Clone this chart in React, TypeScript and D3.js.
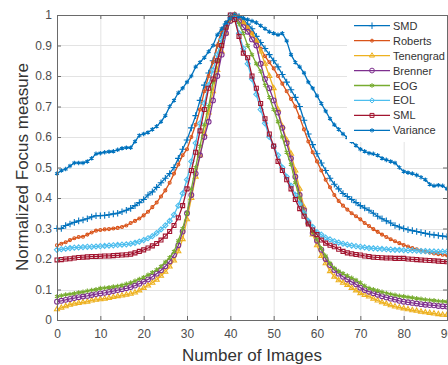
import React, { useEffect, useRef } from "react";
import * as d3 from "d3";

// focus measures for image index 0..90
const smd = [
  0.30, 0.30, 0.31, 0.315, 0.32, 0.325, 0.328, 0.332, 0.338, 0.342,
  0.342, 0.343, 0.345, 0.348, 0.35, 0.355, 0.36, 0.366, 0.375, 0.385,
  0.395, 0.41, 0.42, 0.435, 0.45, 0.465, 0.48, 0.5, 0.53, 0.56,
  0.59, 0.63, 0.67, 0.72, 0.77, 0.81, 0.85, 0.9, 0.94, 0.97,
  0.99, 1.0, 0.995, 0.985, 0.97, 0.955, 0.93, 0.91, 0.89, 0.87,
  0.85, 0.83, 0.805, 0.78, 0.755, 0.73, 0.70, 0.655, 0.61, 0.575,
  0.545, 0.515, 0.49, 0.465, 0.445, 0.43, 0.415, 0.405, 0.395, 0.385,
  0.375, 0.367, 0.36, 0.35, 0.34, 0.332, 0.325, 0.318, 0.31, 0.305,
  0.30, 0.296, 0.293, 0.29, 0.287, 0.284, 0.281, 0.279, 0.277, 0.275, 0.273,
];
const roberts = [
  0.245, 0.25, 0.255, 0.262, 0.268, 0.272, 0.273, 0.28, 0.287, 0.293,
  0.295, 0.297, 0.298, 0.30, 0.302, 0.305, 0.31, 0.318, 0.325, 0.333,
  0.343, 0.355, 0.37, 0.385, 0.405, 0.425, 0.45, 0.48, 0.51, 0.54,
  0.56, 0.6, 0.64, 0.69, 0.75, 0.80, 0.845, 0.9, 0.95, 0.975,
  0.99, 1.0, 0.99, 0.975, 0.96, 0.94, 0.915, 0.89, 0.865, 0.845,
  0.825, 0.80, 0.775, 0.75, 0.725, 0.70, 0.665, 0.625, 0.585, 0.55,
  0.52, 0.49, 0.46, 0.435, 0.41, 0.39, 0.375, 0.362, 0.35, 0.34,
  0.33, 0.318, 0.308, 0.298, 0.289, 0.28, 0.272, 0.265, 0.258, 0.252,
  0.246, 0.241, 0.236, 0.232, 0.228, 0.224, 0.221, 0.218, 0.216, 0.214, 0.212,
];
const tenengrad = [
  0.035, 0.04, 0.045, 0.05, 0.053, 0.056, 0.058, 0.06, 0.064, 0.066,
  0.068, 0.07, 0.072, 0.075, 0.078, 0.08, 0.083, 0.086, 0.09, 0.097,
  0.105, 0.113, 0.122, 0.132, 0.145, 0.158, 0.175, 0.195, 0.225, 0.265,
  0.33, 0.40, 0.47, 0.54, 0.61, 0.68, 0.75, 0.82, 0.88, 0.94,
  0.98, 1.0, 0.99, 0.975, 0.955, 0.935, 0.915, 0.88, 0.84, 0.80,
  0.76, 0.69, 0.635, 0.59, 0.545, 0.49, 0.43, 0.37, 0.32, 0.28,
  0.245, 0.21, 0.186, 0.16, 0.142, 0.13, 0.122, 0.115, 0.105, 0.097,
  0.088, 0.082, 0.077, 0.07, 0.064, 0.058, 0.053, 0.048, 0.044, 0.041,
  0.038, 0.035, 0.032, 0.03, 0.027, 0.025, 0.023, 0.021, 0.019, 0.017, 0.016,
];
const brenner = [
  0.06, 0.063, 0.066, 0.069, 0.072, 0.075, 0.077, 0.079, 0.082, 0.085,
  0.087, 0.089, 0.092, 0.095, 0.098, 0.101, 0.104, 0.108, 0.113, 0.119,
  0.126, 0.133, 0.142, 0.152, 0.163, 0.176, 0.192, 0.213, 0.245, 0.29,
  0.35, 0.41, 0.48, 0.54, 0.60, 0.65, 0.72, 0.80, 0.87, 0.94,
  0.98, 1.0, 0.98, 0.96, 0.945, 0.92, 0.90, 0.84, 0.79, 0.76,
  0.72, 0.68, 0.63, 0.58, 0.53, 0.47, 0.41, 0.36, 0.32, 0.285,
  0.26, 0.23, 0.20, 0.18, 0.164, 0.152, 0.142, 0.133, 0.125, 0.117,
  0.106, 0.098, 0.093, 0.088, 0.083, 0.078, 0.074, 0.07, 0.067, 0.063,
  0.06, 0.058, 0.056, 0.054, 0.052, 0.05, 0.049, 0.048, 0.046, 0.045, 0.044,
];
const eog = [
  0.077, 0.08, 0.083, 0.085, 0.087, 0.09, 0.092, 0.095, 0.098, 0.10,
  0.104, 0.105, 0.107, 0.109, 0.111, 0.114, 0.118, 0.122, 0.128, 0.134,
  0.14, 0.148, 0.156, 0.165, 0.176, 0.19, 0.205, 0.225, 0.26, 0.30,
  0.35, 0.43, 0.50, 0.57, 0.64, 0.70, 0.78, 0.85, 0.91, 0.96,
  0.99, 1.0, 0.97, 0.94, 0.90, 0.87, 0.84, 0.815, 0.77, 0.73,
  0.69, 0.65, 0.60, 0.55, 0.51, 0.45, 0.40, 0.35, 0.32, 0.29,
  0.265, 0.235, 0.21, 0.186, 0.17, 0.16, 0.153, 0.145, 0.138, 0.131,
  0.122, 0.112, 0.104, 0.10, 0.096, 0.092, 0.088, 0.085, 0.082, 0.079,
  0.077, 0.075, 0.073, 0.071, 0.069, 0.067, 0.065, 0.064, 0.062, 0.061, 0.06,
];
const eol = [
  0.23, 0.232, 0.234, 0.236, 0.237, 0.238, 0.239, 0.24, 0.24, 0.241,
  0.242, 0.243, 0.244, 0.245, 0.246, 0.247, 0.248, 0.25, 0.253, 0.257,
  0.262, 0.268, 0.275, 0.285, 0.297, 0.31, 0.325, 0.345, 0.375, 0.415,
  0.46, 0.52, 0.58, 0.645, 0.71, 0.77, 0.82, 0.87, 0.92, 0.97,
  1.0, 0.99, 0.94, 0.89, 0.84, 0.79, 0.74, 0.69, 0.645, 0.60,
  0.57, 0.54, 0.50, 0.47, 0.44, 0.41, 0.38, 0.35, 0.325, 0.305,
  0.288, 0.28, 0.27, 0.264, 0.258, 0.254, 0.25, 0.247, 0.244, 0.242,
  0.24, 0.238, 0.236, 0.235, 0.234, 0.233, 0.232, 0.231, 0.23, 0.23,
  0.229, 0.228, 0.228, 0.227, 0.226, 0.226, 0.225, 0.225, 0.224, 0.224, 0.224,
];
const sml = [
  0.197, 0.198, 0.20, 0.201, 0.203, 0.205, 0.206, 0.207, 0.208, 0.208,
  0.209, 0.21, 0.21, 0.211, 0.212, 0.213, 0.214, 0.216, 0.22, 0.225,
  0.23, 0.236, 0.243, 0.251, 0.262, 0.275, 0.29, 0.31, 0.335, 0.375,
  0.43, 0.49, 0.55, 0.62, 0.69, 0.76, 0.79, 0.85, 0.90, 0.96,
  1.0, 0.985, 0.93, 0.875, 0.86, 0.80, 0.76, 0.71, 0.66, 0.61,
  0.57, 0.52, 0.49, 0.46, 0.43, 0.395, 0.365, 0.34, 0.315, 0.295,
  0.28, 0.262, 0.252, 0.245, 0.24, 0.232, 0.225, 0.22, 0.217, 0.215,
  0.213, 0.21, 0.208, 0.206, 0.205, 0.204, 0.203, 0.203, 0.202, 0.202,
  0.202, 0.20, 0.199, 0.198, 0.197, 0.196, 0.195, 0.194, 0.193, 0.192, 0.191,
];
const variance = [
  0.48, 0.49, 0.495, 0.505, 0.515, 0.515, 0.515, 0.52, 0.53, 0.545,
  0.547, 0.55, 0.552, 0.553, 0.558, 0.563, 0.565, 0.565, 0.585, 0.605,
  0.61, 0.615, 0.625, 0.635, 0.65, 0.67, 0.70, 0.72, 0.745, 0.76,
  0.78, 0.80, 0.83, 0.845, 0.86, 0.88, 0.90, 0.935, 0.955, 0.975,
  0.99, 1.0, 0.995, 0.99, 0.985, 0.98, 0.975, 0.965, 0.955, 0.945,
  0.94, 0.935, 0.94, 0.915, 0.87, 0.845, 0.83, 0.81, 0.78, 0.76,
  0.735, 0.71, 0.685, 0.66, 0.64, 0.625, 0.61, 0.598, 0.585, 0.572,
  0.56, 0.553, 0.547, 0.545, 0.54, 0.53, 0.525, 0.52, 0.515, 0.50,
  0.487, 0.483, 0.48, 0.475, 0.468, 0.46, 0.445, 0.44, 0.442, 0.44, 0.43,
];

const seriesNames = ["SMD", "Roberts", "Tenengrad", "Brenner", "EOG", "EOL", "SML", "Variance"];
const seriesValues = [smd, roberts, tenengrad, brenner, eog, eol, sml, variance];
const xTicks = [0, 10, 20, 30, 40, 50, 60, 70, 80, 90];
const yTicks = [0, 0.1, 0.2, 0.3, 0.4, 0.5, 0.6, 0.7, 0.8, 0.9, 1];
const yTickLabels = ["0", "0.1", "0.2", "0.3", "0.4", "0.5", "0.6", "0.7", "0.8", "0.9", "1"];

const colors = ["#0072BD", "#D95319", "#EDB120", "#7E2F8E", "#77AC30", "#4DBEEE", "#A2142F", "#0072BD"];
const symbols = [
  { type: d3.symbolPlus, size: 16 },
  { type: d3.symbolCircle, size: 7 },
  { type: d3.symbolTriangle2, size: 18 },
  { type: d3.symbolCircle, size: 18 },
  { type: d3.symbolAsterisk, size: 16 },
  { type: d3.symbolDiamond2, size: 17 },
  { type: d3.symbolSquare2, size: 20 },
  { type: d3.symbolAsterisk, size: 14 },
];

const FONT = "'Liberation Sans', Arial, Helvetica, sans-serif";

const App: React.FC = () => {
  const svgRef = useRef<SVGSVGElement | null>(null);

  useEffect(() => {
    if (!svgRef.current) return;
    const svg = d3.select(svgRef.current);
    svg.selectAll("*").remove();

    const margin = { top: 15, left: 57 };
    const width = 390;
    const height = 305;

    const x = d3.scaleLinear().domain([0, 90]).range([0, width]);
    const y = d3.scaleLinear().domain([0, 1]).range([height, 0]);

    const g = svg
      .append("g")
      .attr("transform", `translate(${margin.left},${margin.top})`);

    // grid
    g.append("g")
      .selectAll("line")
      .data(xTicks)
      .enter()
      .append("line")
      .attr("x1", (d) => x(d) + 0.5)
      .attr("x2", (d) => x(d) + 0.5)
      .attr("y1", 0)
      .attr("y2", height)
      .attr("stroke", "#e3e3e3");
    g.append("g")
      .selectAll("line")
      .data(yTicks)
      .enter()
      .append("line")
      .attr("x1", 0)
      .attr("x2", width)
      .attr("y1", (d) => Math.round(y(d)) + 0.5)
      .attr("y2", (d) => Math.round(y(d)) + 0.5)
      .attr("stroke", "#e3e3e3");

    // curves
    const line = d3
      .line<number>()
      .x((_, i) => x(i))
      .y((d) => y(d));

    seriesValues.forEach((vals, k) => {
      const sg = g.append("g");
      sg.append("path")
        .datum(vals)
        .attr("d", line)
        .attr("fill", "none")
        .attr("stroke", colors[k])
        .attr("stroke-width", 1.3);
      const sym = d3.symbol().type(symbols[k].type).size(symbols[k].size);
      sg.selectAll("path.m")
        .data(vals)
        .enter()
        .append("path")
        .attr("class", "m")
        .attr("d", sym() as string)
        .attr("transform", (d, i) => `translate(${x(i)},${y(d)})`)
        .attr("fill", "none")
        .attr("stroke", colors[k])
        .attr("stroke-width", 1.1);
    });

    // axes
    const axisColor = "#6a6a6a";
    const xAxis = g
      .append("g")
      .attr("transform", `translate(0,${height})`)
      .call(
        d3.axisBottom(x).tickValues(xTicks).tickSizeInner(-4).tickSizeOuter(0).tickPadding(9),
      );
    const yAxis = g
      .append("g")
      .call(
        d3
          .axisLeft(y)
          .tickValues(yTicks)
          .tickFormat((_, i) => yTickLabels[i])
          .tickSizeInner(-4)
          .tickSizeOuter(0)
          .tickPadding(5),
      );
    g.append("g")
      .call(d3.axisTop(x).tickValues(xTicks).tickSizeInner(-4).tickSizeOuter(0).tickFormat(() => ""));
    g.append("g")
      .attr("transform", `translate(${width},0)`)
      .call(d3.axisRight(y).tickValues(yTicks).tickSizeInner(-4).tickSizeOuter(0).tickFormat(() => ""));

    g.selectAll(".domain").remove();
    g.selectAll(".tick line").attr("stroke", axisColor);
    [xAxis, yAxis].forEach((a) =>
      a.selectAll("text").attr("fill", "#4d4d4d").style("font-size", "12px").style("font-family", FONT),
    );

    g.append("rect")
      .attr("x", 0.5)
      .attr("y", 0.5)
      .attr("width", width)
      .attr("height", height)
      .attr("fill", "none")
      .attr("stroke", axisColor);

    // axis titles
    svg
      .append("text")
      .attr("x", 252)
      .attr("y", 361)
      .attr("text-anchor", "middle")
      .attr("fill", "#333")
      .style("font-family", FONT)
      .style("font-size", "17px")
      .text("Number of Images");
    svg
      .append("text")
      .attr("transform", "rotate(-90)")
      .attr("x", -167)
      .attr("y", 28)
      .attr("text-anchor", "middle")
      .attr("fill", "#333")
      .style("font-family", FONT)
      .style("font-size", "17px")
      .text("Normalized Focus measure");

    // legend
    const lg = svg.append("g");
    lg.append("rect")
      .attr("x", 347)
      .attr("y", 16)
      .attr("width", 100)
      .attr("height", 126)
      .attr("fill", "#fff");
    seriesNames.forEach((name, k) => {
      const ly = 25.7 + k * 14.95;
      lg.append("line")
        .attr("x1", 354)
        .attr("x2", 390)
        .attr("y1", ly)
        .attr("y2", ly)
        .attr("stroke", colors[k])
        .attr("stroke-width", 1.3);
      lg.append("path")
        .attr("d", d3.symbol().type(symbols[k].type).size(symbols[k].size)() as string)
        .attr("transform", `translate(372,${ly})`)
        .attr("fill", "none")
        .attr("stroke", colors[k]);
      lg.append("text")
        .attr("x", 393)
        .attr("y", ly + 4)
        .attr("fill", "#333")
        .style("font-family", FONT)
        .style("font-size", "11px")
        .text(name);
    });
  }, []);

  return (
    <svg
      ref={svgRef}
      width={448}
      height={365}
      style={{ position: "absolute", left: 0, top: 0, background: "#fff" }}
    />
  );
};

export default App;
